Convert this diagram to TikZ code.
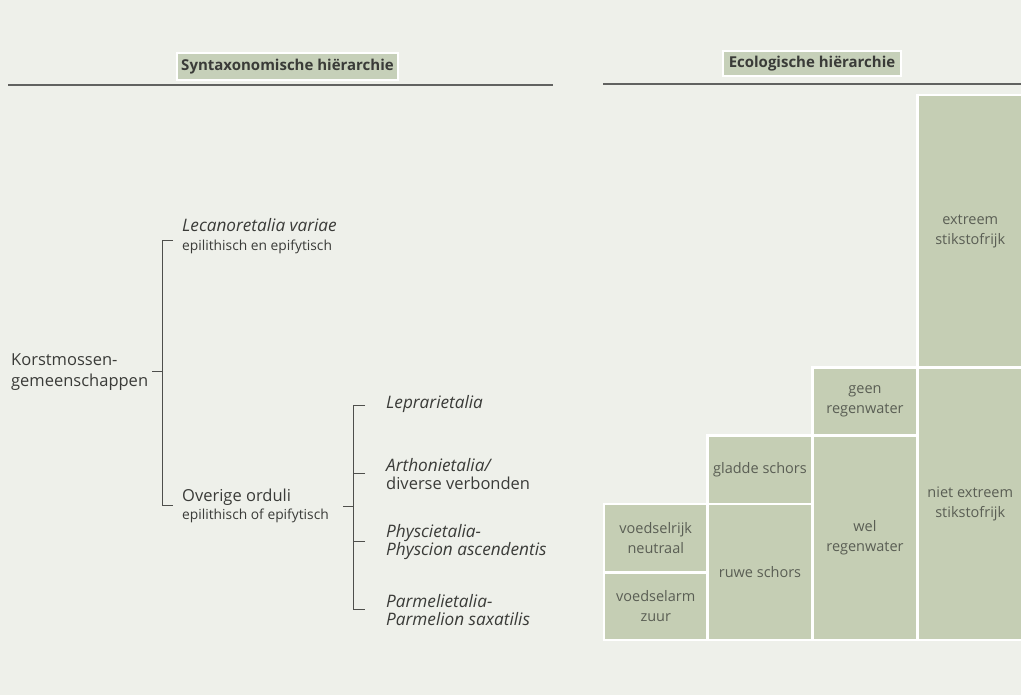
\documentclass[tikz,border=0pt]{standalone}
\usepackage{fontspec}
\setmainfont{Open Sans}
\usetikzlibrary{positioning}
\definecolor{xpaper}{HTML}{EEF0EA}
\definecolor{xsage}{HTML}{C5CEB4}
\definecolor{xhead}{HTML}{C6D0B9}
\definecolor{xink}{HTML}{3A3B38}
\definecolor{xboxink}{HTML}{5A5E54}
\tikzset{
	rule/.style={line width=1.2pt, draw=xink!80},
	bracket/.style={line width=0.9pt, draw=xink!90},
	header/.style={fill=xhead, draw=white, line width=1.6pt, inner sep=0pt, text=xink, font=\bfseries\fontsize{15}{17}\selectfont},
	ecobox/.style={fill=xsage, draw=white, line width=2.4pt, align=center, inner sep=0pt, text=xboxink, font=\fontsize{14.5}{20}\selectfont},
	taxon/.style={anchor=west, align=left, inner sep=0pt, text=xink, font=\fontsize{16.5}{18.5}\selectfont},
}
\newcommand{\habitat}[1]{{\fontsize{13.8}{15}\selectfont #1}}
\newcommand{\taxname}[1]{{\itshape\fontsize{17.2}{18.5}\selectfont #1}}

\begin{document}
\begin{tikzpicture}[x=1pt, y=-1pt]
	\useasboundingbox[fill=xpaper] (0,0) rectangle (1021,695);

	% headings
	\node[header, minimum width=221pt, minimum height=27pt] (syntax) at (287.5,66.5) {Syntaxonomische hiërarchie};
	\node[header, minimum width=178pt, minimum height=25pt] (eco) at (812,63.5) {Ecologische hiërarchie};
	\draw[rule] (8,85) -- (553,85);
	\draw[rule] (603,84) -- (1021,84);

	% syntaxonomic tree
	\node[taxon, font=\fontsize{16.5}{21}\selectfont] (korst) at (11,372) {Korstmossen-\\gemeenschappen};
	\node[taxon] (lecan) at (182,236) {\taxname{Lecanoretalia variae}\\\habitat{epilithisch en epifytisch}};
	\node[taxon] (overig) at (182,506) {Overige orduli\\\habitat{epilithisch of epifytisch}};
	\node[taxon] (lepra) at (386,404) {\taxname{Leprarietalia}};
	\node[taxon] (arthon) at (386,474) {\taxname{Arthonietalia/}\\diverse verbonden};
	\node[taxon] (physc) at (386,542) {\taxname{Physcietalia-}\\\taxname{Physcion ascendentis}};
	\node[taxon] (parmel) at (386,610) {\taxname{Parmelietalia-}\\\taxname{Parmelion saxatilis}};

	\coordinate (k0) at (152,371);
	\coordinate (k1) at (162,371);
	\coordinate (b1t) at (162,240);
	\coordinate (b1b) at (162,505);
	\coordinate (l1) at (173,240);
	\coordinate (o1) at (173,505);
	\draw[bracket] (k0) -- (k1);
	\draw[bracket] (l1) -- (b1t) -- (b1b) -- (o1);

	\coordinate (o2) at (343,506);
	\coordinate (j2) at (353,506);
	\coordinate (b2t) at (353,405);
	\coordinate (b2b) at (353,609);
	\coordinate (p1) at (365,405);
	\coordinate (p2) at (365,473);
	\coordinate (p3) at (365,541);
	\coordinate (p4) at (365,609);
	\draw[bracket] (o2) -- (j2);
	\draw[bracket] (p1) -- (b2t) -- (b2b) -- (p4);
	\draw[bracket] (p2) -- (p2 -| b2t);
	\draw[bracket] (p3) -- (p3 -| b2t);

	% ecological blocks
	\node[ecobox, minimum width=103.5pt, minimum height=68.5pt] (rijk) at (655.75,538.25) {voedselrijk\\neutraal};
	\node[ecobox, minimum width=103.5pt, minimum height=67.5pt] (arm) at (655.75,606.25) {voedselarm\\zuur};
	\node[ecobox, minimum width=105pt, minimum height=68.5pt] (glad) at (760,469.75) {gladde schors};
	\node[ecobox, minimum width=105pt, minimum height=136pt] (ruw) at (760,572) {ruwe schors};
	\node[ecobox, minimum width=105pt, minimum height=68pt] (geen) at (865,401.5) {geen\\regenwater};
	\node[ecobox, minimum width=105pt, minimum height=204.5pt] (wel) at (865,537.75) {wel\\regenwater};
	\node[ecobox, minimum width=105.5pt, minimum height=272.5pt] (extr) at (970.25,231.25) {extreem\\stikstofrijk};
	\node[ecobox, minimum width=105.5pt, minimum height=272.5pt] (nietextr) at (970.25,503.75) {niet extreem\\stikstofrijk};
\end{tikzpicture}
\end{document}
